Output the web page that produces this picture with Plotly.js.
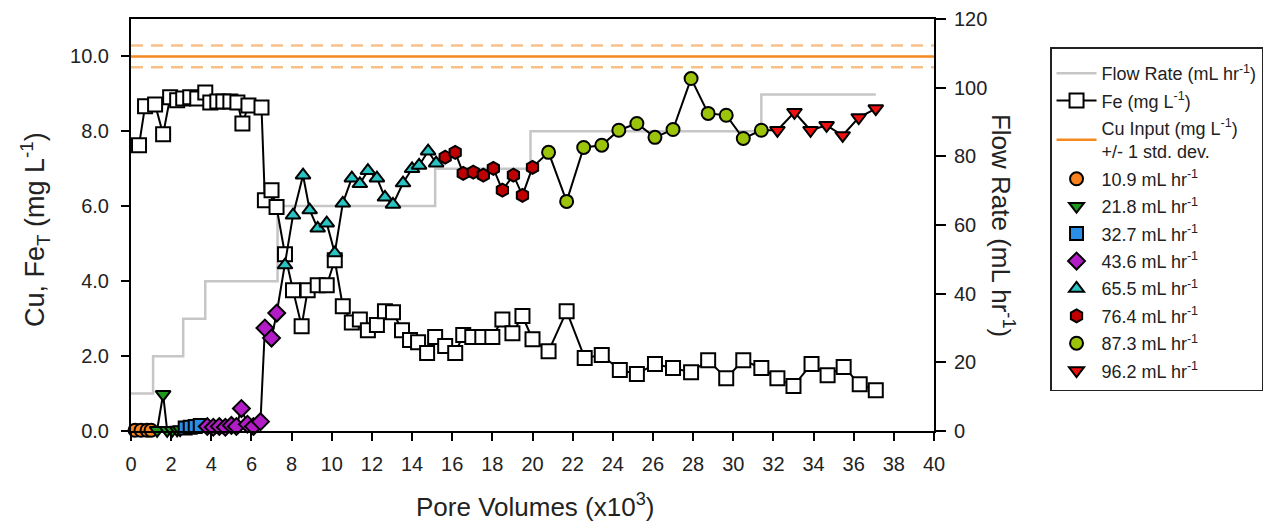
<!DOCTYPE html>
<html>
<head>
<meta charset="utf-8">
<script src="https://cdn.plot.ly/plotly-3.0.1.min.js"></script>
<style>html,body{margin:0;padding:0;background:#fff;}#chart{width:1278px;height:524px;}</style>
</head>
<body>
<div id="chart"></div>
<script>
// Flow rate steps (mL/hr) vs pore volumes (x10^3)
const flowX = [0, 1.1, 2.6, 3.7, 7.3, 15.15, 19.9, 31.4, 37.1];
const flowY = [10.9, 21.8, 32.7, 43.6, 65.5, 76.4, 87.3, 98, 98];

// Cu input mean and std dev
const cuInputX = [0, 40];
const cuInputMean = 10.0;
const cuInputStd = 0.29;

// Fe (mg/L)
const feX = [0.4,0.7,1.2,1.6,1.95,2.3,2.6,2.95,3.3,3.7,3.95,4.3,4.6,4.95,5.3,5.55,5.85,6.5,
  6.67,7.0,7.25,7.67,8.07,8.5,8.8,9.3,9.75,10.15,10.55,11.0,11.4,11.8,12.25,12.65,13.05,13.5,13.9,14.3,14.75,
  15.15,15.65,16.15,16.55,17.0,17.5,18.0,18.5,19.0,19.5,20.0,20.8,21.7,22.6,23.45,24.35,25.2,26.1,27.0,27.9,
  28.75,29.65,30.5,31.4,32.2,33.0,33.9,34.7,35.5,36.3,37.1];
const feY = [7.63,8.67,8.72,7.92,8.91,8.83,8.88,8.91,8.88,9.04,8.77,8.8,8.8,8.8,8.77,8.21,8.69,8.64,
  6.16,6.43,5.98,4.72,3.76,2.8,3.76,3.89,3.89,4.56,3.33,2.9,2.98,2.69,2.83,3.2,3.17,2.69,2.43,2.37,2.08,
  2.51,2.27,2.08,2.56,2.51,2.51,2.51,2.98,2.61,3.07,2.45,2.13,3.2,1.95,2.03,1.63,1.52,1.79,1.68,1.57,
  1.89,1.41,1.89,1.68,1.41,1.2,1.79,1.49,1.71,1.25,1.09];

// Cu by flow rate
const cu109X = [0.2, 0.5, 0.8, 1.0];
const cu109Y = [0.02, 0.02, 0.02, 0.02];
const cu218X = [1.3, 1.6, 1.8, 2.05, 2.3, 2.45];
const cu218Y = [0.02, 0.98, 0.02, 0.02, 0.03, 0.04];
const cu327X = [2.7, 2.95, 3.2, 3.45];
const cu327Y = [0.08, 0.1, 0.12, 0.15];
const cu436X = [3.8, 4.1, 4.4, 4.7, 5.0, 5.25, 5.5, 5.8, 6.1, 6.45, 6.67, 7.0, 7.26];
const cu436Y = [0.12, 0.1, 0.12, 0.1, 0.15, 0.12, 0.6, 0.18, 0.12, 0.25, 2.75, 2.48, 3.15];
const cu655X = [7.67,8.07,8.57,8.9,9.3,9.75,10.15,10.55,11.0,11.4,11.8,12.25,12.65,13.05,13.55,14.0,14.35,14.8,15.2];
const cu655Y = [4.43,5.76,6.83,5.9,5.41,5.55,4.75,6.08,6.75,6.6,6.95,6.75,6.24,6.05,6.62,7.0,7.09,7.47,7.15];
const cu764X = [15.65,16.15,16.55,17.05,17.55,18.05,18.5,19.05,19.5,20.0];
const cu764Y = [7.31,7.44,6.88,6.91,6.83,7.01,6.43,6.83,6.29,7.04];
const cu873X = [20.8,21.7,22.55,23.45,24.3,25.2,26.1,27.0,27.9,28.75,29.65,30.5,31.4];
const cu873Y = [7.44,6.13,7.57,7.63,8.03,8.21,7.84,8.05,9.41,8.48,8.43,7.81,8.03];
const cu962X = [32.2,33.05,33.85,34.65,35.45,36.25,37.1];
const cu962Y = [8.03,8.51,8.03,8.16,7.89,8.37,8.61];

const xTicks = [0,2,4,6,8,10,12,14,16,18,20,22,24,26,28,30,32,34,36,38,40];

const FONT = 'Liberation Sans, Arial, sans-serif';

const cuSeries = [
  {name: '10.9 mL hr<sup>-1</sup>', x: cu109X, y: cu109Y, symbol: 'circle', color: '#f5821f'},
  {name: '21.8 mL hr<sup>-1</sup>', x: cu218X, y: cu218Y, symbol: 'triangle-down', color: '#1f9a1f'},
  {name: '32.7 mL hr<sup>-1</sup>', x: cu327X, y: cu327Y, symbol: 'square', color: '#2a8de6'},
  {name: '43.6 mL hr<sup>-1</sup>', x: cu436X, y: cu436Y, symbol: 'diamond', color: '#b21cc6'},
  {name: '65.5 mL hr<sup>-1</sup>', x: cu655X, y: cu655Y, symbol: 'triangle-up', color: '#2ac3c3'},
  {name: '76.4 mL hr<sup>-1</sup>', x: cu764X, y: cu764Y, symbol: 'hexagon', color: '#c00000'},
  {name: '87.3 mL hr<sup>-1</sup>', x: cu873X, y: cu873Y, symbol: 'circle', color: '#9cc40a'},
  {name: '96.2 mL hr<sup>-1</sup>', x: cu962X, y: cu962Y, symbol: 'triangle-down', color: '#f01010'}
];

const allCuX = [].concat(...cuSeries.map(s => s.x));
const allCuY = [].concat(...cuSeries.map(s => s.y));

const traces = [];
let g = 0;
traces.push({x: flowX, y: flowY, yaxis: 'y', mode: 'lines', line: {shape: 'hv', color: '#c6c6c6', width: 2.5},
  name: 'Flow Rate (mL hr<sup>-1</sup>)', legendgroup: 'g' + (g++)});
traces.push({x: feX, y: feY, yaxis: 'y2', mode: 'lines+markers', line: {color: '#000', width: 2},
  marker: {symbol: 'square', size: 14, color: '#fff', line: {color: '#000', width: 2}},
  name: 'Fe (mg L<sup>-1</sup>)', legendgroup: 'g' + (g++), cliponaxis: false});
traces.push({x: cuInputX, y: cuInputX.map(() => cuInputMean), yaxis: 'y2', mode: 'lines',
  line: {color: '#f5891f', width: 2.5}, name: 'Cu Input (mg L<sup>-1</sup>)<br>+/- 1 std. dev.', legendgroup: 'g' + (g++)});
traces.push({x: cuInputX, y: cuInputX.map(() => cuInputMean + cuInputStd), yaxis: 'y2', mode: 'lines',
  line: {color: '#f7c185', width: 2.5, dash: '12px,8px'}, showlegend: false, hoverinfo: 'skip'});
traces.push({x: cuInputX, y: cuInputX.map(() => cuInputMean - cuInputStd), yaxis: 'y2', mode: 'lines',
  line: {color: '#f7c185', width: 2.5, dash: '12px,8px'}, showlegend: false, hoverinfo: 'skip'});
traces.push({x: allCuX, y: allCuY, yaxis: 'y2', mode: 'lines', line: {color: '#000', width: 2}, showlegend: false, hoverinfo: 'skip'});
cuSeries.forEach(s => {
  traces.push({x: s.x, y: s.y, yaxis: 'y2', mode: 'markers', name: s.name, legendgroup: 'g' + (g++), cliponaxis: false,
    marker: {symbol: s.symbol, size: 13, color: s.color, line: {color: '#000', width: 2}}});
});

const layout = {
  width: 1278, height: 524,
  margin: {l: 131, r: 344, t: 19, b: 93},
  paper_bgcolor: '#fff', plot_bgcolor: '#fff',
  font: {family: FONT, color: '#222', size: 20},
  showlegend: true,
  legend: {x: 1.1445, y: 0.932, xanchor: 'left', yanchor: 'top', bgcolor: '#fff', bordercolor: '#222', borderwidth: 1.5,
    font: {family: FONT, size: 18, color: '#222'}, tracegroupgap: 1, itemwidth: 40,
    title: {text: '&nbsp;', font: {size: 5}}},
  xaxis: {range: [0, 40], tickvals: xTicks, ticktext: xTicks.map(String), ticks: 'outside', ticklen: 8, tickwidth: 2,
    tickcolor: '#000', showline: true, linecolor: '#000', linewidth: 2, mirror: true, showgrid: false, zeroline: false,
    tickfont: {size: 20}, ticklabelstandoff: 6},
  yaxis: {range: [0, 120], side: 'right', tickvals: [0,20,40,60,80,100,120], ticks: 'outside', ticklen: 10, tickwidth: 2,
    tickcolor: '#000', showline: true, linecolor: '#000', linewidth: 2, showgrid: false, zeroline: false,
    tickfont: {size: 20}, ticklabelstandoff: 4},
  yaxis2: {range: [0, 11], overlaying: 'y', side: 'left', tickvals: [0,2,4,6,8,10], tickformat: '.1f', ticks: 'outside',
    ticklen: 8, tickwidth: 2, tickcolor: '#000', showline: true, linecolor: '#000', linewidth: 2, showgrid: false,
    zeroline: false, tickfont: {size: 20}, ticklabelstandoff: 8},
  annotations: [
    {text: 'Pore Volumes (x10<sup>3</sup>)', xref: 'paper', yref: 'paper', x: 0.503, y: -0.18, showarrow: false,
      font: {size: 26}, xanchor: 'center', yanchor: 'middle'},
    {text: 'Cu, Fe<sub>T</sub> (mg L<sup>-1</sup>)', xref: 'paper', yref: 'paper', x: -0.1196, y: 0.49, showarrow: false,
      textangle: -90, font: {size: 27}, xanchor: 'center', yanchor: 'middle'},
    {text: 'Flow Rate (mL hr<sup>-1</sup>)', xref: 'paper', yref: 'paper', x: 1.086, y: 0.5, showarrow: false,
      textangle: 90, font: {size: 26}, xanchor: 'center', yanchor: 'middle'}
  ]
};

Plotly.newPlot('chart', traces, layout, {displayModeBar: false, staticPlot: true});
</script>
</body>
</html>
